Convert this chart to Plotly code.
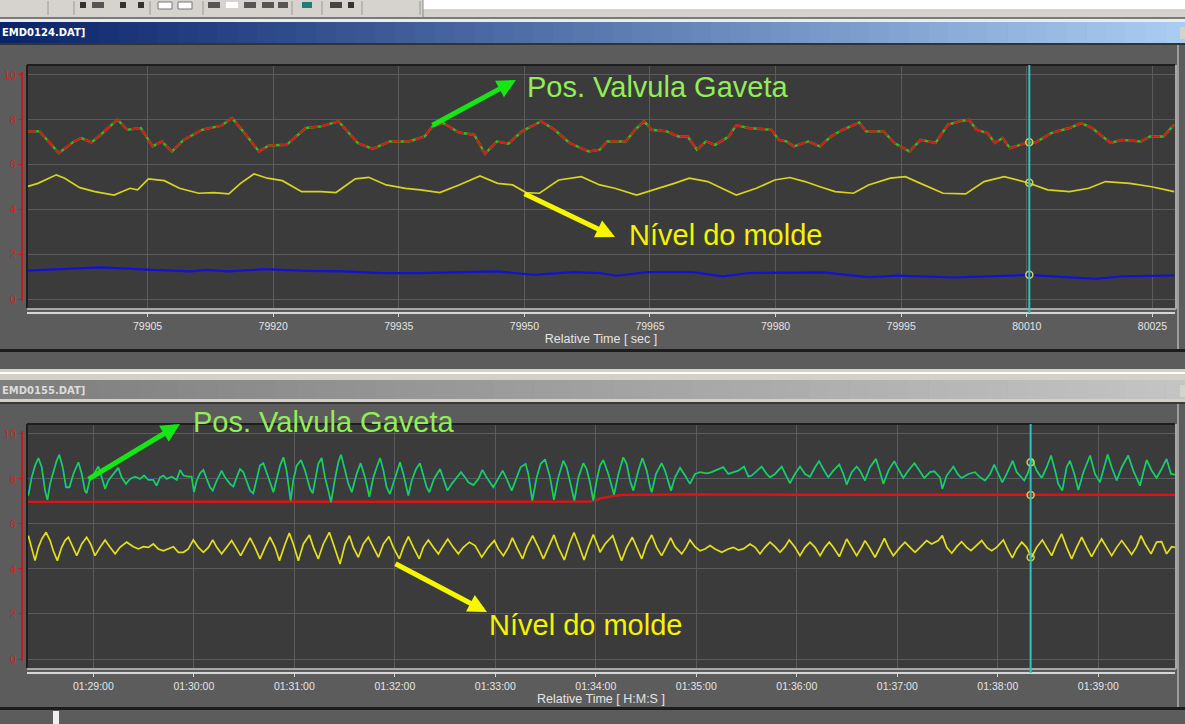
import plotly.graph_objects as go

W, H = 1185, 724

# ---------------- data ----------------
# upper window: time in seconds, value in volts
TOP_RED_GREEN = [
    (79890.6, 7.48), (79892.1, 7.48), (79894.4, 6.51), (79896.2, 7.03), (79897.1, 7.18), (79898.3, 6.99),
    (79899.4, 7.33), (79901.4, 8.00), (79902.6, 7.55), (79904.2, 7.63), (79905.6, 6.81), (79906.7, 7.03),
    (79907.9, 6.58), (79909.3, 7.10), (79911.5, 7.55), (79913.8, 7.73), (79915.1, 8.07), (79916.6, 7.40),
    (79918.3, 6.58), (79919.5, 6.85), (79921.6, 6.88), (79923.9, 7.63), (79925.7, 7.70), (79927.8, 7.93),
    (79930.1, 6.96), (79931.9, 6.70), (79933.9, 7.03), (79936.2, 7.03), (79938.1, 7.25), (79939.0, 7.70),
    (79940.3, 7.85), (79942.2, 7.43), (79944.0, 7.33), (79945.3, 6.48), (79946.7, 7.03), (79948.1, 6.93),
    (79949.7, 7.48), (79952.0, 7.93), (79953.6, 7.55), (79955.4, 6.96), (79957.7, 6.58),
    (79959.0, 6.66), (79959.9, 7.03), (79962.1, 7.03), (79963.2, 7.55), (79964.3, 7.93), (79965.2, 7.55),
    (79967.0, 7.48), (79968.4, 7.25), (79969.5, 7.25), (79970.6, 6.66), (79971.7, 7.03), (79972.8, 6.88),
    (79974.4, 7.25), (79975.3, 7.75), (79976.8, 7.63), (79979.5, 7.55), (79980.4, 7.10), (79981.3, 7.03),
    (79982.2, 6.81), (79983.9, 7.03), (79985.3, 6.81), (79986.6, 7.25), (79988.0, 7.55), (79990.0, 7.88),
    (79990.8, 7.48), (79992.9, 7.48), (79994.2, 6.96), (79996.0, 6.58), (79997.3, 7.10), (79999.1, 6.96),
    (80000.6, 7.78), (80002.0, 7.93), (80003.1, 8.00), (80004.0, 7.55), (80005.3, 7.40), (80006.2, 6.96),
    (80007.1, 7.18), (80008.0, 6.73), (80010.1, 6.99), (80011.1, 6.99), (80012.9, 7.40), (80015.1, 7.63),
    (80016.5, 7.85), (80017.8, 7.63), (80020.0, 6.96), (80021.4, 7.10), (80023.6, 7.03), (80024.7, 7.25),
    (80026.3, 7.25), (80027.6, 7.78),
]
TOP_YELLOW = [
    (79890.6, 5.01), (79891.9, 5.16), (79894.1, 5.54), (79895.1, 5.39), (79896.9, 4.97), (79898.7, 4.79),
    (79901.0, 4.64), (79902.9, 4.94), (79903.8, 4.87), (79905.1, 5.36), (79907.0, 5.28), (79908.8, 4.94),
    (79911.1, 4.72), (79912.9, 4.75), (79914.7, 4.69), (79916.1, 5.16), (79917.7, 5.58), (79919.3, 5.39),
    (79921.1, 5.28), (79923.4, 4.79), (79925.7, 4.79), (79927.5, 4.75), (79929.8, 5.36), (79931.4, 5.43),
    (79933.5, 5.09), (79935.8, 4.94), (79937.6, 4.87), (79939.9, 4.75), (79942.2, 5.09), (79944.7, 5.49),
    (79946.8, 5.16), (79948.6, 5.09), (79950.2, 4.75), (79951.8, 4.72), (79954.1, 5.31), (79956.8, 5.46),
    (79959.0, 5.09), (79960.8, 4.94), (79963.4, 4.64), (79965.7, 4.90), (79967.9, 5.16), (79969.7, 5.39),
    (79971.9, 5.24), (79973.2, 5.01), (79975.3, 4.64), (79977.7, 4.94), (79979.9, 5.31), (79981.7, 5.42),
    (79983.5, 5.24), (79985.3, 5.01), (79987.1, 4.79), (79989.3, 4.72), (79991.1, 5.09), (79993.7, 5.39),
    (79995.5, 5.46), (79997.3, 5.16), (80000.0, 4.72), (80002.7, 4.69), (80004.9, 5.24), (80007.3, 5.46),
    (80010.1, 5.19), (80012.5, 4.87), (80015.1, 4.79), (80017.4, 4.94), (80019.4, 5.24), (80022.3, 5.16),
    (80024.9, 5.01), (80027.6, 4.79),
]
TOP_BLUE = [
    (79890.6, 1.27), (79896.4, 1.38), (79899.4, 1.41), (79905.6, 1.30), (79910.2, 1.23), (79912.0, 1.30),
    (79914.7, 1.23), (79918.9, 1.33), (79923.9, 1.26), (79928.5, 1.23), (79933.0, 1.16), (79937.6, 1.16),
    (79942.2, 1.19), (79946.7, 1.23), (79951.1, 1.08), (79955.9, 1.20), (79959.0, 1.16), (79961.0, 1.04),
    (79964.8, 1.20), (79970.1, 1.20), (79973.7, 1.01), (79976.8, 1.16), (79985.7, 1.19), (79991.1, 0.98),
    (79994.6, 1.04), (80001.3, 0.96), (80008.0, 1.04), (80010.1, 1.08), (80014.7, 0.98), (80018.2, 0.90),
    (80021.4, 1.01), (80027.6, 1.05),
]
TOP_TICKS = [79905, 79920, 79935, 79950, 79965, 79980, 79995, 80010, 80025]
TOP_XRANGE = [79890.6, 80027.7]
TOP_CURSOR = 80010.3
TOP_CURSOR_VALUES = [6.99, 5.19, 1.08]

# lower window: time in seconds of the day (01:29:00 = 5340 s)
BOT_GREEN_BLUE = [
    (5301.2, 7.26), (5303.2, 8.07), (5305.2, 8.59), (5307.2, 8.93), (5309.2, 8.52), (5311.2, 7.48),
    (5312.6, 7.07), (5314.2, 7.78), (5316.1, 8.30), (5318.1, 8.81), (5319.7, 9.08), (5321.7, 8.52),
    (5323.7, 7.63), (5325.7, 7.63), (5328.1, 8.22), (5331.1, 8.74), (5333.1, 8.22), (5335.0, 7.48),
    (5336.0, 7.36), (5338.0, 8.00), (5341.0, 8.30), (5343.0, 8.55), (5345.0, 8.07), (5347.0, 7.56),
    (5349.0, 7.93), (5352.0, 8.22), (5354.9, 8.49), (5356.9, 8.07), (5359.5, 7.78), (5361.9, 8.00),
    (5364.9, 8.10), (5367.9, 8.00), (5370.3, 8.15), (5372.9, 7.96), (5375.8, 7.96), (5377.8, 7.70),
    (5379.8, 8.07), (5381.8, 8.15), (5383.8, 8.00), (5386.8, 8.10), (5389.8, 7.96), (5391.8, 8.40),
    (5393.8, 8.15), (5396.7, 8.10), (5398.7, 8.10), (5400.1, 7.41), (5401.7, 7.93), (5403.7, 8.25),
    (5405.7, 8.40), (5407.7, 8.00), (5409.7, 7.63), (5411.3, 7.48), (5413.7, 7.93), (5416.6, 8.37),
    (5418.6, 8.07), (5421.6, 7.78), (5423.6, 7.66), (5425.6, 8.07), (5427.6, 8.44), (5429.6, 8.30),
    (5431.6, 7.93), (5433.6, 7.48), (5435.5, 7.36), (5437.5, 7.93), (5439.5, 8.59), (5441.5, 8.70),
    (5443.5, 8.22), (5445.5, 7.85), (5447.5, 7.41), (5449.5, 8.07), (5451.5, 8.59), (5453.5, 8.96),
    (5455.4, 8.37), (5457.8, 7.04), (5459.4, 7.93), (5461.4, 8.59), (5464.0, 8.84), (5466.4, 8.37),
    (5469.4, 7.56), (5471.0, 7.36),
    (5474.3, 8.67), (5476.3, 8.93), (5478.3, 8.07), (5480.3, 7.48), (5481.9, 6.96), (5484.3, 8.00),
    (5486.3, 8.74), (5487.9, 9.08), (5489.9, 8.44), (5492.3, 7.78), (5494.3, 7.41), (5497.2, 8.22),
    (5499.6, 8.70), (5502.2, 8.07), (5504.8, 7.21), (5507.2, 8.07), (5509.2, 8.52), (5511.2, 8.93),
    (5513.2, 8.37), (5515.1, 7.63), (5517.1, 7.33), (5520.1, 8.07), (5523.1, 8.74), (5525.1, 8.22),
    (5528.1, 7.26), (5530.1, 7.93), (5532.7, 8.44), (5535.0, 8.70), (5537.0, 8.22), (5539.0, 7.63),
    (5540.6, 7.41), (5543.4, 8.00), (5547.0, 8.44), (5549.0, 8.00), (5551.4, 7.48), (5554.0, 7.78),
    (5556.9, 8.07), (5559.5, 8.30), (5561.9, 8.07), (5563.9, 7.85), (5566.9, 7.73), (5569.9, 8.00),
    (5572.3, 8.40), (5574.8, 8.07), (5578.8, 7.63), (5581.8, 8.00), (5584.4, 8.37), (5586.8, 8.00),
    (5589.8, 7.48), (5592.8, 8.07), (5595.1, 8.52), (5598.1, 8.67), (5599.7, 8.22), (5602.1, 7.04),
    (5604.7, 8.07), (5607.1, 8.67), (5609.7, 8.87), (5612.7, 8.07), (5615.0, 7.07), (5617.6, 8.07),
    (5620.6, 8.81), (5622.6, 8.52), (5624.6, 7.93), (5627.2, 7.04), (5629.6, 8.07), (5632.6, 8.70),
    (5634.5, 8.44), (5636.5, 7.85), (5638.5, 7.04), (5640.5, 7.93), (5642.5, 8.59), (5644.5, 8.84),
    (5647.5, 8.22), (5649.5, 7.63), (5650.9, 7.30), (5653.5, 8.22), (5656.4, 8.96), (5658.4, 8.67),
    (5660.4, 7.93), (5662.4, 7.48), (5665.4, 8.37), (5667.8, 8.93), (5670.4, 8.37), (5672.4, 7.63),
    (5673.4, 7.41), (5675.9, 8.22), (5679.3, 8.70), (5681.3, 8.37), (5683.3, 7.93), (5684.9, 7.48),
    (5687.3, 8.07), (5690.3, 8.49), (5693.3, 8.15), (5696.2, 7.78), (5699.2, 8.22), (5702.2, 8.30),
    (5706.2, 8.25), (5709.2, 8.30), (5712.2, 8.40), (5716.1, 8.52), (5719.1, 8.22), (5722.1, 8.30),
    (5725.1, 8.37), (5728.5, 8.55), (5731.1, 8.10), (5733.1, 8.15), (5735.1, 8.30), (5739.0, 8.55),
    (5742.0, 8.22), (5744.0, 8.07), (5747.0, 8.22), (5751.0, 8.55), (5753.6, 8.15), (5755.9, 7.81),
    (5758.9, 8.22), (5761.9, 8.55), (5764.9, 8.22), (5767.9, 8.10), (5770.9, 8.52), (5773.3, 8.79),
    (5775.8, 8.44), (5778.8, 8.07), (5781.8, 8.37), (5785.4, 8.64), (5787.8, 8.22), (5789.8, 7.75),
    (5792.8, 8.30), (5795.7, 8.55), (5797.7, 8.37), (5800.7, 7.93), (5803.7, 8.52), (5807.3, 8.89),
    (5809.7, 8.30), (5811.7, 7.78), (5814.7, 8.37), (5818.2, 8.79),
    (5820.6, 8.44), (5823.6, 8.04), (5826.6, 8.37), (5830.2, 8.70), (5832.6, 8.44), (5836.1, 8.04),
    (5839.5, 8.30), (5842.1, 8.34), (5845.5, 8.07), (5846.9, 7.56), (5849.5, 8.15), (5853.5, 8.55),
    (5856.0, 8.22), (5858.4, 8.04), (5862.4, 8.22), (5866.4, 8.30), (5869.4, 8.07), (5872.4, 7.93),
    (5875.4, 8.22), (5877.9, 8.64), (5880.3, 8.22), (5882.7, 7.85), (5885.3, 8.22), (5888.9, 8.81),
    (5891.3, 8.30), (5894.3, 8.07), (5895.8, 7.93), (5898.2, 8.30), (5900.2, 8.89), (5903.2, 8.37),
    (5906.2, 8.04), (5909.2, 8.52), (5911.8, 9.04), (5914.2, 8.37), (5916.1, 7.78), (5918.5, 7.48),
    (5921.1, 8.52), (5923.1, 8.81), (5925.7, 8.22), (5928.1, 7.51), (5931.1, 8.30), (5935.1, 9.04),
    (5938.0, 8.22), (5941.0, 7.85), (5943.0, 8.37), (5945.6, 9.08), (5948.0, 8.52), (5951.0, 7.93),
    (5954.0, 8.52), (5957.9, 9.04), (5960.9, 8.37), (5964.9, 7.70), (5966.9, 8.30), (5968.9, 8.84),
    (5971.9, 8.37), (5974.8, 8.04), (5977.8, 8.44), (5980.8, 8.89), (5983.4, 8.22), (5985.8, 8.19),
]
BOT_YELLOW = [
    (5301.2, 5.48), (5303.2, 4.96), (5305.2, 4.37), (5307.2, 4.96), (5309.2, 5.33), (5311.8, 5.63),
    (5314.2, 5.26), (5316.1, 4.81), (5318.5, 4.37), (5321.1, 4.96), (5323.1, 5.26), (5325.1, 5.41),
    (5327.7, 4.96), (5330.1, 4.59), (5333.1, 5.11), (5336.0, 5.41), (5338.4, 5.11), (5341.0, 4.59),
    (5344.0, 4.96), (5347.0, 5.29), (5350.0, 4.96), (5353.0, 4.67), (5355.9, 4.96), (5359.9, 5.19),
    (5363.9, 4.99), (5366.9, 4.89), (5369.9, 4.99), (5372.9, 4.96), (5375.8, 5.11), (5378.8, 4.89),
    (5381.8, 4.81), (5384.8, 4.89), (5387.8, 4.99), (5390.8, 4.74), (5393.8, 4.74), (5396.7, 4.89),
    (5399.7, 5.29), (5402.7, 4.96), (5405.7, 4.74), (5408.7, 4.96), (5411.3, 5.29), (5413.7, 4.96),
    (5416.6, 4.67), (5419.6, 4.96), (5422.6, 5.26), (5425.6, 4.89), (5428.0, 4.59), (5430.6, 4.96),
    (5433.6, 5.38), (5436.5, 4.96), (5439.5, 4.45), (5442.5, 4.96), (5445.5, 5.41), (5448.5, 4.96),
    (5451.1, 4.37), (5454.5, 5.11), (5457.0, 5.59), (5459.4, 5.11), (5462.4, 4.37), (5465.4, 5.11),
    (5469.0, 5.51), (5471.4, 4.96),
    (5474.3, 4.45), (5477.3, 5.11), (5480.9, 5.63), (5483.3, 5.11), (5487.3, 4.22), (5490.3, 5.11),
    (5492.9, 5.48), (5495.2, 4.96), (5498.2, 4.52), (5501.2, 5.11), (5504.2, 5.41), (5507.2, 4.96),
    (5510.2, 4.52), (5513.2, 5.11), (5516.5, 5.44), (5519.1, 4.96), (5522.7, 4.45), (5525.1, 4.96),
    (5528.1, 5.44), (5531.1, 4.96), (5534.6, 4.45), (5537.0, 4.96), (5540.0, 5.29), (5543.0, 4.96),
    (5546.0, 4.67), (5548.6, 4.99), (5551.6, 5.33), (5554.9, 4.96), (5557.9, 4.67), (5560.9, 4.96),
    (5564.5, 5.19), (5567.9, 5.04), (5571.9, 4.52), (5575.8, 4.96), (5579.4, 5.26), (5581.8, 4.89),
    (5584.8, 4.59), (5587.8, 4.96), (5590.2, 5.38), (5592.8, 4.96), (5596.3, 4.45), (5598.7, 4.96),
    (5602.3, 5.48), (5605.7, 4.96), (5608.7, 4.45), (5611.7, 4.96), (5615.0, 5.51), (5617.6, 4.96),
    (5621.2, 4.40), (5624.2, 5.11), (5627.0, 5.62), (5629.6, 5.11), (5633.0, 4.40), (5635.5, 4.96),
    (5638.5, 5.53), (5641.5, 4.96),
    (5642.5, 4.74), (5645.5, 5.11), (5650.1, 5.48), (5652.5, 4.96), (5655.4, 4.37), (5658.4, 4.96),
    (5661.8, 5.41), (5664.4, 4.96), (5667.4, 4.45), (5670.4, 5.11), (5673.4, 5.51), (5676.3, 4.96),
    (5679.3, 4.59), (5681.9, 4.96), (5684.7, 5.38), (5687.3, 4.99), (5691.3, 4.67), (5693.9, 4.96),
    (5696.2, 5.29), (5699.2, 4.99), (5702.2, 4.81), (5705.2, 4.89), (5708.2, 5.04), (5711.2, 4.89),
    (5715.2, 4.74), (5719.1, 4.89), (5722.1, 4.96), (5725.1, 4.84), (5728.1, 4.89), (5732.1, 5.11),
    (5735.1, 4.96), (5738.0, 4.67), (5741.0, 4.96), (5744.0, 5.19), (5747.0, 4.99), (5750.0, 4.74),
    (5753.0, 4.99), (5755.5, 5.29), (5758.9, 4.96), (5761.9, 4.59), (5764.9, 4.96), (5767.9, 5.19),
    (5770.9, 4.96), (5773.9, 4.59), (5776.8, 4.96), (5779.4, 5.19), (5781.8, 4.96), (5785.4, 4.55),
    (5787.8, 4.96), (5789.8, 5.33), (5792.8, 4.96), (5795.7, 4.59), (5798.7, 4.96), (5800.7, 5.26),
    (5803.3, 4.96), (5806.7, 4.52), (5809.7, 4.96), (5812.3, 5.36), (5814.7, 4.96), (5817.6, 4.59),
    (5821.6, 4.96), (5824.6, 5.19), (5827.6, 4.96), (5830.6, 4.74), (5833.6, 4.96), (5837.5, 5.26),
    (5840.5, 5.11), (5842.5, 5.19), (5844.5, 5.26), (5846.9, 5.48), (5849.5, 4.96), (5852.5, 4.70),
    (5855.5, 4.99), (5858.4, 5.21), (5861.4, 4.96), (5864.0, 4.81), (5867.4, 5.04), (5870.4, 5.26),
    (5873.4, 4.96), (5876.3, 4.81), (5879.3, 4.96), (5883.3, 5.29), (5886.3, 4.81), (5888.7, 4.49),
    (5891.3, 4.89), (5894.3, 5.19), (5897.2, 4.96), (5900.2, 4.52), (5903.2, 4.96), (5906.6, 5.29),
    (5909.2, 4.96), (5912.2, 4.59), (5915.1, 5.11), (5918.1, 5.56), (5921.1, 4.96), (5924.1, 4.45),
    (5927.1, 4.96), (5930.1, 5.41), (5933.1, 4.96), (5936.0, 4.55), (5939.0, 4.96), (5942.0, 5.33),
    (5945.0, 4.96), (5948.0, 4.59), (5951.0, 4.96), (5954.0, 5.26), (5956.9, 4.96), (5959.9, 4.64),
    (5962.9, 4.99), (5965.5, 5.48), (5967.9, 5.11), (5971.5, 4.67), (5974.8, 5.19), (5977.8, 5.21),
    (5980.8, 4.67), (5983.8, 4.99), (5985.8, 4.96),
]
BOT_RED = [
    (5300.5, 6.98), (5360.0, 6.98), (5420.0, 6.97), (5480.0, 6.98), (5540.0, 6.97), (5600.0, 6.98),
    (5636.0, 6.99), (5640.0, 7.05), (5643.0, 7.15), (5647.0, 7.19), (5650.0, 7.24), (5656.0, 7.29),
    (5700.0, 7.31), (5760.0, 7.30), (5800.0, 7.30), (5850.0, 7.29), (5900.0, 7.29), (5950.0, 7.29),
    (5985.8, 7.29),
]
BOT_TICK_VALS = [5340, 5400, 5460, 5520, 5580, 5640, 5700, 5760, 5820, 5880, 5940]
BOT_TICK_TEXT = ["01:29:00", "01:30:00", "01:31:00", "01:32:00", "01:33:00", "01:34:00",
                 "01:35:00", "01:36:00", "01:37:00", "01:38:00", "01:39:00"]
BOT_XRANGE = [5300.4, 5985.8]
BOT_CURSOR = 5899.6
BOT_CURSOR_VALUES = [8.74, 7.29, 4.52]

Y_TICKS = [0, 2, 4, 6, 8, 10]
TOP_WINDOW_TITLE = "EMD0124.DAT]"
BOT_WINDOW_TITLE = "EMD0155.DAT]"
LABEL_VALVE = "Pos. Valvula Gaveta"
LABEL_LEVEL = "Nível do molde"
TOP_XTITLE = "Relative Time [ sec ]"
BOT_XTITLE = "Relative Time [ H:M:S ]"


def unzip(pairs):
    return [p[0] for p in pairs], [p[1] for p in pairs]


# ---------------- geometry helpers (screen pixels -> paper) ----------------
def px(x):
    return x / W


def py(y):
    return 1 - y / H


shapes = []


def rect(x0, y0, x1, y1, color, layer="below", line=None):
    shapes.append(dict(type="rect", xref="paper", yref="paper",
                       x0=px(x0), x1=px(x1), y0=py(y1), y1=py(y0),
                       fillcolor=color, line=line or dict(width=0), layer=layer))


def seg(x0, y0, x1, y1, color, width=1, layer="above"):
    shapes.append(dict(type="line", xref="paper", yref="paper",
                       x0=px(x0), x1=px(x1), y0=py(y0), y1=py(y1),
                       line=dict(color=color, width=width), layer=layer))


def hex2rgb(h):
    h = h.lstrip("#")
    return [int(h[i:i + 2], 16) for i in (0, 2, 4)]


def gradient_bar(y0, y1, c0, c1, steps=60):
    a, b = hex2rgb(c0), hex2rgb(c1)
    for i in range(steps):
        f = i / (steps - 1)
        c = "rgb(%d,%d,%d)" % tuple(round(a[k] + (b[k] - a[k]) * f) for k in range(3))
        rect(W * i / steps, y0, W * (i + 1) / steps + 0.6, y1, c)


# ---------------- window chrome ----------------
PANEL = "#5c5c5c"
rect(0, 0, W, 10, "#ffffff")
rect(0, 9, W, 18, "#d6d3ce")
rect(0, 0, 423, 17, "#d6d3ce")
seg(423, 0, 423, 17, "#8a8a8a", 1)
# toolbar buttons
for xs in [48, 74, 150, 203, 292, 322, 362, 420]:
    seg(xs, 1, xs, 15, "#9a9a9a", 1)
for (a, b, c) in [(80, 86, "#333333"), (92, 104, "#555555"), (120, 126, "#333333"),
                  (138, 144, "#333333"), (208, 220, "#555555"), (226, 238, "#ffffff"),
                  (244, 256, "#555555"), (262, 274, "#555555"), (278, 288, "#555555"),
                  (302, 312, "#1f7f74"), (330, 342, "#444444"), (348, 354, "#333333")]:
    rect(a, 2, b, 8, c, layer="above")
rect(158, 2, 172, 9, "#ffffff", layer="above", line=dict(color="#777777", width=1))
rect(178, 2, 192, 9, "#ffffff", layer="above", line=dict(color="#777777", width=1))
rect(0, 17, W, 19, "#7a7a7a")
rect(0, 19, W, 22, "#ebebeb")
gradient_bar(22, 43, "#0a246a", "#a8ccf2")
rect(0, 43, W, 45, "#333333")
rect(1180, 27, W, 39, "#d6d3ce", layer="above")
# gap between windows
rect(0, 349, W, 352, "#1c1c1c")
rect(0, 369, W, 380, "#d4d0c8")
rect(0, 372, W, 374, "#ffffff")
gradient_bar(380, 399, "#7e7e7e", "#c4c4c4")
rect(1180, 385, W, 397, "#d6d3ce", layer="above")
rect(0, 399, W, 402, "#d4d0c8")
rect(0, 402, W, 404, "#3a3a3a")
rect(0, 707, W, 710, "#1c1c1c")
rect(53, 711, 59, H, "#f0f0f0", layer="above")
# right-hand frame of the panels
for (a, b) in [(45, 349), (404, 707)]:
    seg(1178, a, 1178, b, "#9c9c9c", 2)

# plot-area bevels
for (top, bot) in [(65, 308), (424, 668)]:
    seg(27, top, 1175, top, "#1e1e1e", 2)
    seg(27, top, 27, bot, "#1e1e1e", 2)
    seg(1176, top, 1176, bot + 1, "#a6a6a6", 2)
    seg(27, bot + 1, 1176, bot + 1, "#a6a6a6", 2)

# red y-axis spines
shapes.append(dict(type="line", xref="paper", yref="y", x0=px(22), x1=px(22), y0=-0.08, y1=10.13,
                   line=dict(color="#c01c1c", width=2), layer="above"))
shapes.append(dict(type="line", xref="paper", yref="y2", x0=px(22), x1=px(22), y0=-0.08, y1=10.13,
                   line=dict(color="#c01c1c", width=2), layer="above"))

# cursors
CYAN = "#2fc0c0"
shapes.append(dict(type="line", xref="x", yref="paper", x0=TOP_CURSOR, x1=TOP_CURSOR,
                   y0=py(313), y1=py(65), line=dict(color=CYAN, width=2), layer="above"))
shapes.append(dict(type="line", xref="x2", yref="paper", x0=BOT_CURSOR, x1=BOT_CURSOR,
                   y0=py(673), y1=py(424), line=dict(color=CYAN, width=2), layer="above"))

# ---------------- traces ----------------
fig = go.Figure()

tx, tv = unzip(TOP_RED_GREEN)
fig.add_trace(go.Scatter(x=tx, y=tv, mode="lines", line=dict(color="#22c422", width=2.4),
                         xaxis="x", yaxis="y", hoverinfo="skip"))
fig.add_trace(go.Scatter(x=tx, y=tv, mode="lines", line=dict(color="#d81818", width=2.2, dash="9px,3px"),
                         xaxis="x", yaxis="y", hoverinfo="skip"))
tx, tv = unzip(TOP_YELLOW)
fig.add_trace(go.Scatter(x=tx, y=tv, mode="lines", line=dict(color="#d6d41e", width=1.7),
                         xaxis="x", yaxis="y", hoverinfo="skip"))
tx, tv = unzip(TOP_BLUE)
fig.add_trace(go.Scatter(x=tx, y=tv, mode="lines", line=dict(color="#1212d4", width=2.2),
                         xaxis="x", yaxis="y", hoverinfo="skip"))
fig.add_trace(go.Scatter(x=[TOP_CURSOR] * len(TOP_CURSOR_VALUES), y=TOP_CURSOR_VALUES, mode="markers",
                         marker=dict(size=7, color="rgba(0,0,0,0)", line=dict(color="#d8d24a", width=1.5)),
                         xaxis="x", yaxis="y", hoverinfo="skip"))

bx, bv = unzip(BOT_RED)
fig.add_trace(go.Scatter(x=bx, y=bv, mode="lines", line=dict(color="#de1414", width=2.4),
                         xaxis="x2", yaxis="y2", hoverinfo="skip"))
bx, bv = unzip(BOT_GREEN_BLUE)
fig.add_trace(go.Scatter(x=bx, y=bv, mode="lines", line=dict(color="#1430d2", width=2.6),
                         xaxis="x2", yaxis="y2", hoverinfo="skip"))
fig.add_trace(go.Scatter(x=bx, y=bv, mode="lines", line=dict(color="#26d030", width=1.8),
                         xaxis="x2", yaxis="y2", hoverinfo="skip"))
bx, bv = unzip(BOT_YELLOW)
fig.add_trace(go.Scatter(x=bx, y=bv, mode="lines", line=dict(color="#e2e01c", width=1.7),
                         xaxis="x2", yaxis="y2", hoverinfo="skip"))
fig.add_trace(go.Scatter(x=[BOT_CURSOR] * len(BOT_CURSOR_VALUES), y=BOT_CURSOR_VALUES, mode="markers",
                         marker=dict(size=7, color="rgba(0,0,0,0)", line=dict(color="#d8d24a", width=1.5)),
                         xaxis="x2", yaxis="y2", hoverinfo="skip"))

# ---------------- axes ----------------
TICKFONT = dict(family="Liberation Sans, Arial, sans-serif", size=10.5, color="#e4e4e4")
GRID = "#5b5b5b"


def xaxis(domain_y_line, rng, tickvals, ticktext, title):
    return dict(domain=[px(27), px(1175)], range=rng, anchor="free", position=py(domain_y_line),
                tickmode="array", tickvals=tickvals, ticktext=ticktext,
                ticks="outside", ticklen=3, tickwidth=1, tickcolor="#d6d6d6",
                showline=True, linecolor="#d6d6d6", linewidth=2,
                showgrid=True, gridcolor=GRID, gridwidth=1, zeroline=False,
                tickfont=TICKFONT,
                title=dict(text=title, standoff=1,
                           font=dict(family="Liberation Sans, Arial, sans-serif", size=12.5, color="#e4e4e4")))


def yaxis(top, bot):
    return dict(domain=[py(bot), py(top)], range=[-0.4, 10.44], anchor="free", position=px(22),
                tickmode="array", tickvals=Y_TICKS, ticks="outside", ticklen=4, tickwidth=1,
                tickcolor="#c01c1c", showline=False, showgrid=True, gridcolor=GRID, gridwidth=1,
                zeroline=False,
                tickfont=dict(family="Liberation Sans, Arial, sans-serif", size=11, color="#d02424"))


annotations = [
    dict(text="<b>%s</b>" % TOP_WINDOW_TITLE, x=px(0), y=py(32.5), xref="paper", yref="paper",
         xanchor="left", yanchor="middle", showarrow=False,
         font=dict(family="DejaVu Sans, Verdana, sans-serif", size=10, color="#ffffff")),
    dict(text="<b>%s</b>" % BOT_WINDOW_TITLE, x=px(0), y=py(390.5), xref="paper", yref="paper",
         xanchor="left", yanchor="middle", showarrow=False,
         font=dict(family="DejaVu Sans, Verdana, sans-serif", size=10, color="#dcdcdc")),
]

LABEL_FONT = "Liberation Sans, Arial, sans-serif"
GREEN_TXT, GREEN_ARROW = "#92ee56", "#16e616"
YELLOW_TXT, YELLOW_ARROW = "#f4f400", "#f6f600"
for (tx0, ty0, txt, col) in [(525, 87, LABEL_VALVE, GREEN_TXT), (627, 235, LABEL_LEVEL, YELLOW_TXT),
                             (191, 422, LABEL_VALVE, GREEN_TXT), (487, 625, LABEL_LEVEL, YELLOW_TXT)]:
    annotations.append(dict(text=txt, x=px(tx0), y=py(ty0), xref="paper", yref="paper",
                            xanchor="left", yanchor="middle", showarrow=False,
                            font=dict(family=LABEL_FONT, size=29, color=col)))

for (hx, hy, tlx, tly, col) in [(516, 80, 431, 126, GREEN_ARROW), (615, 237, 523, 193, YELLOW_ARROW),
                                (180, 424, 87, 480, GREEN_ARROW), (487, 612, 394, 563, YELLOW_ARROW)]:
    annotations.append(dict(text="", x=px(hx), y=py(hy), xref="paper", yref="paper",
                            ax=tlx - hx, ay=tly - hy, axref="pixel", ayref="pixel",
                            showarrow=True, arrowhead=2, arrowsize=0.75, arrowwidth=5,
                            arrowcolor=col, standoff=0, startstandoff=0))

fig.update_layout(
    width=W, height=H, autosize=False,
    margin=dict(l=0, r=0, t=0, b=0, pad=0),
    paper_bgcolor=PANEL, plot_bgcolor="#3b3b3b",
    showlegend=False,
    xaxis=xaxis(313, TOP_XRANGE, TOP_TICKS, [str(t) for t in TOP_TICKS], TOP_XTITLE),
    yaxis=yaxis(65, 308),
    xaxis2=xaxis(673, BOT_XRANGE, BOT_TICK_VALS, BOT_TICK_TEXT, BOT_XTITLE),
    yaxis2=yaxis(424, 668),
    shapes=shapes,
    annotations=annotations,
)

fig.write_html("out.html", config={"displayModeBar": False},
               post_script="document.body.style.margin='0';document.body.style.overflow='hidden';")
